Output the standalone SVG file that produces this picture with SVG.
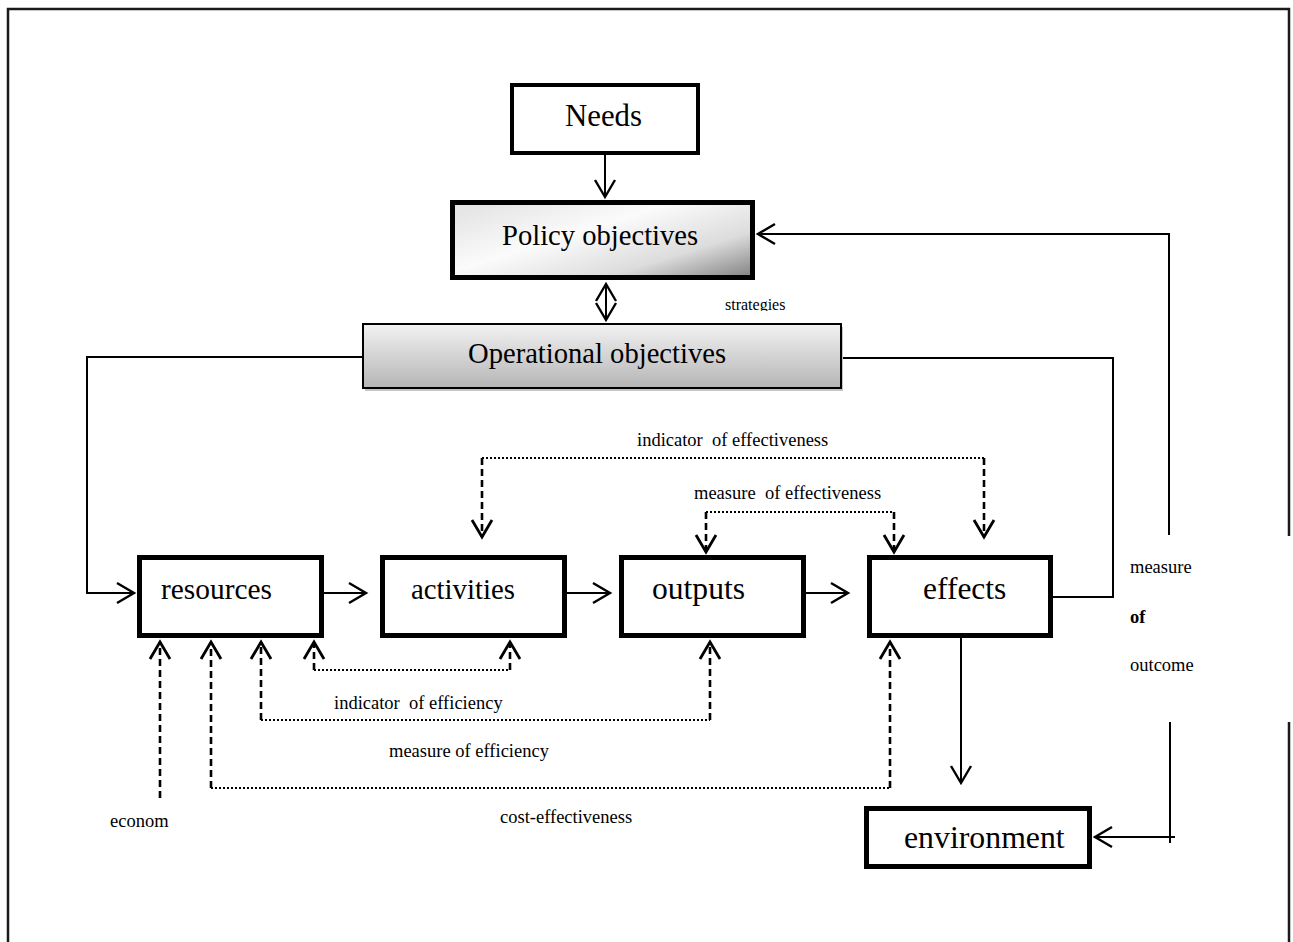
<svg xmlns="http://www.w3.org/2000/svg" width="1293" height="942" viewBox="0 0 1293 942">
<style>
.frame{fill:none;stroke:#1a1a1a;stroke-width:2.5}
.box{fill:#fff;stroke:#000;stroke-width:5}
.lbl{font-family:"Liberation Serif","Times New Roman",serif;fill:#000}
.small{font-family:"Liberation Serif","Times New Roman",serif;font-size:18.5px;fill:#000;white-space:pre}
.solid{fill:none;stroke:#000;stroke-width:2}
.dash{fill:none;stroke:#000;stroke-width:2.6;stroke-dasharray:7 4}
.dot{fill:none;stroke:#000;stroke-width:2;stroke-dasharray:2 2}
</style>
<defs>
  <marker id="head" markerUnits="userSpaceOnUse" orient="auto-start-reverse" markerWidth="24" markerHeight="24" viewBox="-20 -12 24 24" refX="0" refY="0" overflow="visible">
    <path d="M-17,-10 L0,0 L-17,10" fill="none" stroke="#000" stroke-width="2.4" stroke-dasharray="none"/>
  </marker>
  <marker id="headd" markerUnits="userSpaceOnUse" orient="auto" markerWidth="24" markerHeight="24" viewBox="-20 -12 24 24" refX="0" refY="0" overflow="visible">
    <path d="M-17,-10 L0,0 L-17,10" fill="none" stroke="#000" stroke-width="2.8" stroke-dasharray="none"/>
  </marker>
  <linearGradient id="policyFill" x1="0" y1="0.2" x2="1" y2="1">
    <stop offset="0" stop-color="#e6e6e6"/>
    <stop offset="0.35" stop-color="#fbfbfb"/>
    <stop offset="0.7" stop-color="#dcdcdc"/>
    <stop offset="1" stop-color="#808080"/>
  </linearGradient>
  <linearGradient id="operFill" x1="0" y1="0" x2="0" y2="1">
    <stop offset="0" stop-color="#f2f2f2"/>
    <stop offset="1" stop-color="#b5b5b5"/>
  </linearGradient>
  <clipPath id="stratClip"><rect x="700" y="290" width="120" height="21"/></clipPath>
</defs>

<!-- page frame -->
<path class="frame" d="M8,942 V9 H1289 V536 M1289,722 V942"/>

<g id="connectors">
  <!-- solid flow -->
  <path class="solid" d="M605,155 V197" marker-end="url(#head)"/>
  <path class="solid" d="M606,284 V320" marker-start="url(#head)" marker-end="url(#head)"/>
  <path class="solid" d="M1169,535 V234 H758" marker-end="url(#head)"/>
  <path class="solid" d="M1170,722 V843"/>
  <path class="solid" d="M1175,837 H1095" marker-end="url(#head)"/>
  <path class="solid" d="M362,357 H87 V593 H134" marker-end="url(#head)"/>
  <path class="solid" d="M842,358 H1113 V597 H1053"/>
  <path class="solid" d="M324,593 H366" marker-end="url(#head)"/>
  <path class="solid" d="M567,593 H610" marker-end="url(#head)"/>
  <path class="solid" d="M806,593 H848" marker-end="url(#head)"/>
  <path class="solid" d="M961,638 V783" marker-end="url(#head)"/>

  <!-- effectiveness links (top) -->
  <path class="dot" d="M482,458 H984"/>
  <path class="dash" d="M482,458 V537" marker-end="url(#headd)"/>
  <path class="dash" d="M984,458 V537" marker-end="url(#headd)"/>
  <path class="dot" d="M706,512 H894"/>
  <path class="dash" d="M706,512 V552" marker-end="url(#headd)"/>
  <path class="dash" d="M894,512 V552" marker-end="url(#headd)"/>

  <!-- efficiency / economy links (bottom) -->
  <path class="dash" d="M160,798 V642" marker-end="url(#headd)"/>
  <path class="dash" d="M211,788 V642" marker-end="url(#headd)"/>
  <path class="dot" d="M211,788 H890"/>
  <path class="dash" d="M890,788 V642" marker-end="url(#headd)"/>
  <path class="dash" d="M261,720 V642" marker-end="url(#headd)"/>
  <path class="dot" d="M261,720 H710"/>
  <path class="dash" d="M710,720 V642" marker-end="url(#headd)"/>
  <path class="dash" d="M314,670 V642" marker-end="url(#headd)"/>
  <path class="dot" d="M314,670 H510"/>
  <path class="dash" d="M510,670 V642" marker-end="url(#headd)"/>

  <!-- link labels -->
  <text class="small" x="725" y="310" style="font-size:16px" clip-path="url(#stratClip)">strategies</text>
  <text class="small" x="637" y="446" xml:space="preserve">indicator  of effectiveness</text>
  <text class="small" x="694" y="499" xml:space="preserve">measure  of effectiveness</text>
  <text class="small" x="334" y="709" xml:space="preserve">indicator  of efficiency</text>
  <text class="small" x="389" y="757">measure of efficiency</text>
  <text class="small" x="500" y="823">cost-effectiveness</text>
  <text class="small" x="110" y="827">econom</text>
  <text class="small" x="1130" y="573">measure</text>
  <text class="small" x="1130" y="623" font-weight="bold">of</text>
  <text class="small" x="1130" y="671">outcome</text>
</g>

<g id="needs">
  <rect x="512" y="85" width="186" height="68" fill="#fff" stroke="#000" stroke-width="4"/>
  <text class="lbl" x="565" y="126" font-size="30.8">Needs</text>
</g>

<g id="policy-objectives">
  <rect x="452.5" y="202.5" width="300" height="75" fill="url(#policyFill)" stroke="#000" stroke-width="5"/>
  <text class="lbl" x="502" y="245" font-size="28.6">Policy objectives</text>
</g>

<g id="operational-objectives">
  <rect x="365" y="327" width="478" height="64" fill="#c4c4c4"/>
  <rect x="363" y="324" width="478" height="64" fill="url(#operFill)" stroke="#000" stroke-width="2"/>
  <text class="lbl" x="468" y="363" font-size="28.6">Operational objectives</text>
</g>

<g id="resources">
  <rect class="box" x="139.5" y="557.5" width="182" height="78"/>
  <text class="lbl" x="161" y="599" font-size="29.4">resources</text>
</g>

<g id="activities">
  <rect class="box" x="382.5" y="557.5" width="182" height="78"/>
  <text class="lbl" x="411" y="599" font-size="28.8">activities</text>
</g>

<g id="outputs">
  <rect class="box" x="621.5" y="557.5" width="182" height="78"/>
  <text class="lbl" x="652" y="599" font-size="31.6">outputs</text>
</g>

<g id="effects">
  <rect class="box" x="869.5" y="557.5" width="181" height="78"/>
  <text class="lbl" x="923" y="599" font-size="31.5">effects</text>
</g>

<g id="environment">
  <rect class="box" x="866.5" y="808.5" width="223" height="58"/>
  <text class="lbl" x="904" y="848" font-size="31.8">environment</text>
</g>
</svg>
